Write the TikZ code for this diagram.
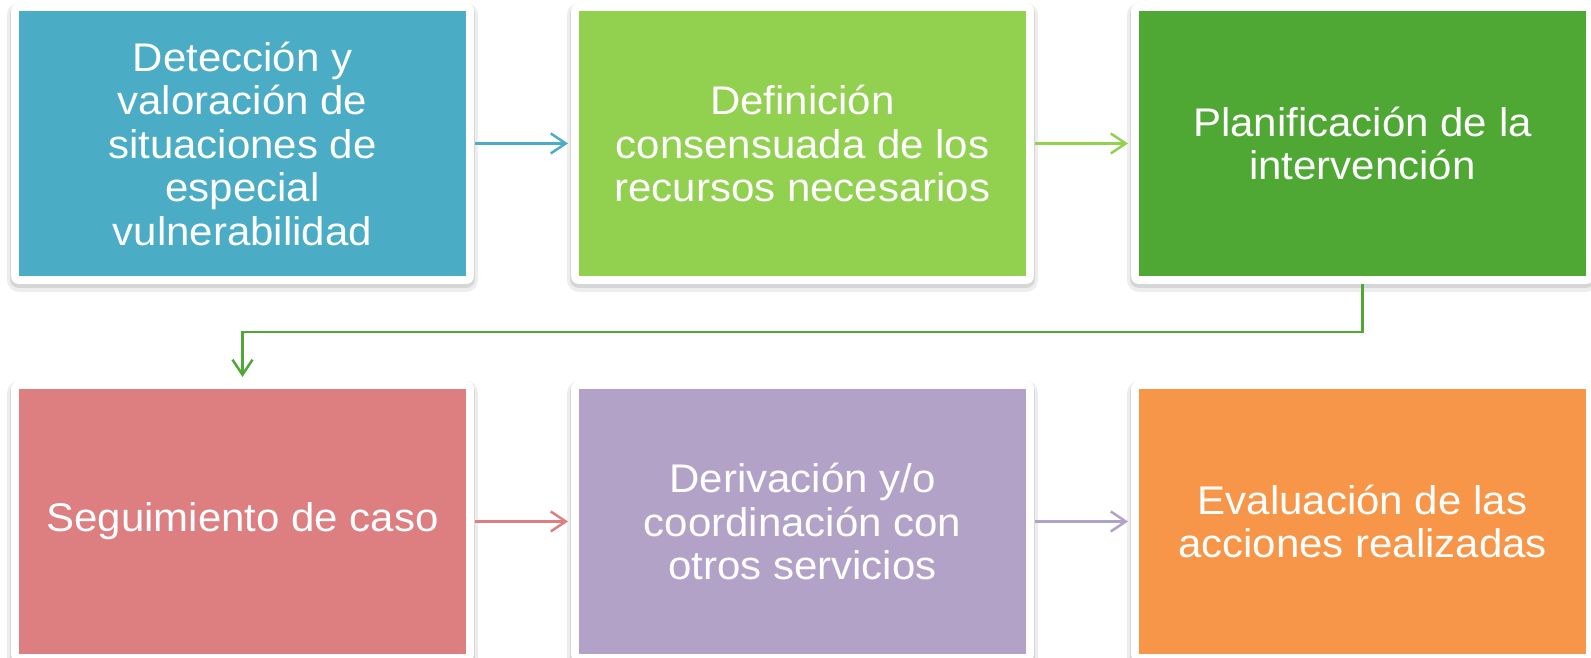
\documentclass[tikz,border=0pt]{standalone}
\usepackage{fontspec}
\setmainfont{Liberation Sans}[FakeStretch=1.05]
\usetikzlibrary{positioning,arrows.meta}
\definecolor{cTeal}{RGB}{75,172,198}
\definecolor{cLime}{RGB}{146,208,80}
\definecolor{cGreen}{RGB}{79,168,52}
\definecolor{cRose}{RGB}{221,126,128}
\definecolor{cLilac}{RGB}{179,162,199}
\definecolor{cOrange}{RGB}{247,150,72}
\begin{document}
\begin{tikzpicture}[x=1pt,y=1pt,
    stage/.style={rectangle, minimum width=447pt, minimum height=265pt, inner sep=0pt, outer sep=0pt,
      fill=#1, text=white, align=center, font=\fontsize{40}{43.5}\selectfont,
      preaction={draw=black!7, line width=24pt, line join=round, transform canvas={yshift=-4pt}},
      preaction={draw=black!16, line width=18pt, line join=round, transform canvas={yshift=-3pt}},
      preaction={draw=white, line width=16pt, line join=round}},
    flow/.style={draw=#1, line width=2.5pt, -{Straight Barb[length=15pt,width=20pt,line width=2.5pt]}, shorten <=9pt, shorten >=11pt}]
            \useasboundingbox (0,0) rectangle (1591,658);
            \node[stage=cTeal] (detect) at (242.5,514.5) {Detección y\\valoración de\\situaciones de\\especial\\vulnerabilidad};
            \node[stage=cLime, right=113pt of detect] (define) {Definición\\consensuada de los\\recursos necesarios};
            \node[stage=cGreen, right=113pt of define] (plan) {Planificación de la\\intervención};
            \node[stage=cRose, below=113pt of detect] (follow) {Seguimiento de caso};
            \node[stage=cLilac, right=113pt of follow] (derive) {Derivación y/o\\coordinación con\\otros servicios};
            \node[stage=cOrange, right=113pt of derive] (evaluate) {Evaluación de las\\acciones realizadas};
            \draw[flow=cTeal] (detect) -- (define);
            \draw[flow=cLime] (define) -- (plan);
            \draw[flow=cGreen, shorten <=8pt, shorten >=12pt] (plan.south) -- ++(0,-56) -| (follow.north);
            \draw[flow=cRose] (follow) -- (derive);
            \draw[flow=cLilac] (derive) -- (evaluate);
        \end{tikzpicture}
\end{document}
